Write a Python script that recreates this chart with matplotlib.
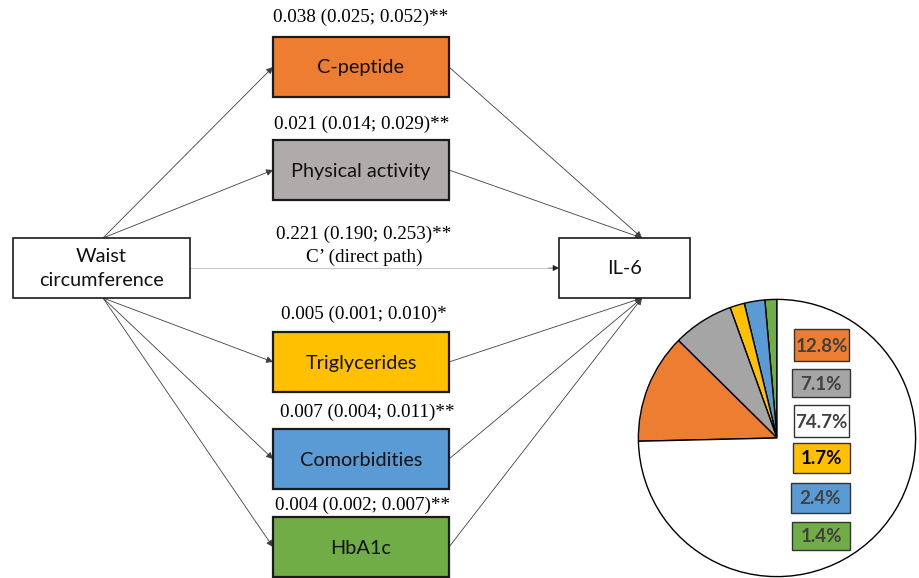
import matplotlib
matplotlib.use("Agg")
import matplotlib.pyplot as plt
from matplotlib.patches import Rectangle

# ---------------- data ----------------
mediators = ["C-peptide", "Physical activity", "Triglycerides", "Comorbidities", "HbA1c"]
mediator_colors = ["#ED7D31", "#AFABAB", "#FFC000", "#5B9BD5", "#70AD47"]
effects = ["0.038 (0.025; 0.052)**", "0.021 (0.014; 0.029)**", "0.005 (0.001; 0.010)*",
           "0.007 (0.004; 0.011)**", "0.004 (0.002; 0.007)**"]
direct_effect = "0.221 (0.190; 0.253)**"
direct_label = "C\u2019 (direct path)"
exposure = "Waist\ncircumference"
outcome = "IL-6"

pie_labels = ["1.4%", "2.4%", "1.7%", "7.1%", "12.8%", "74.7%"]
pie_values = [1.4, 2.4, 1.7, 7.1, 12.8, 74.7]
pie_colors = ["#70AD47", "#5B9BD5", "#FFC000", "#A5A5A5", "#ED7D31", "#FFFFFF"]
legend_order = ["12.8%", "7.1%", "74.7%", "1.7%", "2.4%", "1.4%"]
legend_colors = ["#ED7D31", "#A5A5A5", "#FFFFFF", "#FFC000", "#5B9BD5", "#70AD47"]
legend_textcolors = ["#404040", "#404040", "#404040", "#000000", "#404040", "#404040"]

# ---------------- layout ----------------
W, H = 920, 578
fig = plt.figure(figsize=(W / 100, H / 100), dpi=100)
ax = fig.add_axes([0, 0, 1, 1])
ax.set_xlim(0, W)
ax.set_ylim(H, 0)
ax.axis("off")

box_font = "Lato"
serif = "Liberation Serif"
BFS = 14.3
SFS = 13.8

def box(x0, y0, x1, y1, fc, text, fs=BFS, lw=1.6, ls=1.3):
    ax.add_patch(Rectangle((x0, y0), x1 - x0, y1 - y0, facecolor=fc,
                           edgecolor="#1a1a1a", lw=lw, zorder=3))
    ax.text((x0 + x1) / 2, (y0 + y1) / 2 + 1, text, ha="center", va="center",
            fontsize=fs, family=box_font, color="#111111", zorder=4, linespacing=ls)

def arrow(p0, p1, color="#404040", lw=0.6):
    ax.annotate("", xy=p1, xytext=p0,
                arrowprops=dict(arrowstyle="-|>", color=color, lw=lw,
                                mutation_scale=10, shrinkA=0, shrinkB=0), zorder=2)

# exposure and outcome
wx0, wy0, wx1, wy1 = 13, 238, 190, 298
box(wx0, wy0, wx1, wy1, "white", exposure, lw=1.2, ls=1.5)
ox0, oy0, ox1, oy1 = 559, 238, 690, 298
box(ox0, oy0, ox1, oy1, "white", outcome, lw=1.2)

mx0, mx1 = 273, 449
m_tops = [37, 140, 332, 429, 517]
m_h = 60
label_dy = [20, 16, 18, 17, 12]
label_dx = [0, 1, 3, 6, 2]

for i, (name, col, eff) in enumerate(zip(mediators, mediator_colors, effects)):
    y0 = m_tops[i]
    ym = y0 + m_h / 2
    box(mx0, y0, mx1, y0 + m_h, col, name)
    ax.text((mx0 + mx1) / 2 + label_dx[i], y0 - label_dy[i], eff, ha="center", va="center",
            fontsize=SFS, family=serif, color="black")
    upper = i < 2
    start = (103, wy0) if upper else (103, wy1)
    arrow(start, (mx0, ym))
    end = (642, oy0) if upper else (642, oy1)
    arrow((mx1, ym), end)

# direct path
ax.plot([wx1, 552], [268, 268], color="#C8C8C8", lw=0.8, zorder=1)
arrow((548, 268), (ox0, 268), color="#222222", lw=0.3)
ax.text(364, 234, direct_effect, ha="center", va="center", fontsize=SFS, family=serif)
ax.text(364, 257, direct_label, ha="center", va="center", fontsize=SFS, family=serif)

# pie
cx, cy, r = 777, 438, 140
pax = fig.add_axes([(cx - r) / W, (H - cy - r) / H, 2 * r / W, 2 * r / H])
pax.pie(pie_values, colors=pie_colors, startangle=90, counterclock=True,
        wedgeprops=dict(edgecolor="black", linewidth=1.0))
pax.set_xlim(-1.01, 1.01)
pax.set_ylim(-1.01, 1.01)
pax.set_aspect("equal")
pax.axis("off")

# legend-like value boxes
lab_centers = [345, 383, 421, 458, 498, 536]
lab_x0 = [794, 792, 794, 793, 791, 792]
lab_x1 = [849, 850, 849, 850, 850, 850]
lab_h = [32, 28, 32, 30, 30, 28]
for i, (lab, fc, tc) in enumerate(zip(legend_order, legend_colors, legend_textcolors)):
    yc = lab_centers[i]
    ax.add_patch(Rectangle((lab_x0[i], yc - lab_h[i] / 2), lab_x1[i] - lab_x0[i], lab_h[i],
                           facecolor=fc, edgecolor="#333333", lw=1.0, zorder=5))
    ax.text((lab_x0[i] + lab_x1[i]) / 2, yc + 1, lab, ha="center", va="center",
            fontsize=13.5, family=box_font, fontweight="bold", color=tc, zorder=6)

ax.set_zorder(pax.get_zorder() + 1)
ax.patch.set_visible(False)

fig.savefig("out.png", dpi=100)
